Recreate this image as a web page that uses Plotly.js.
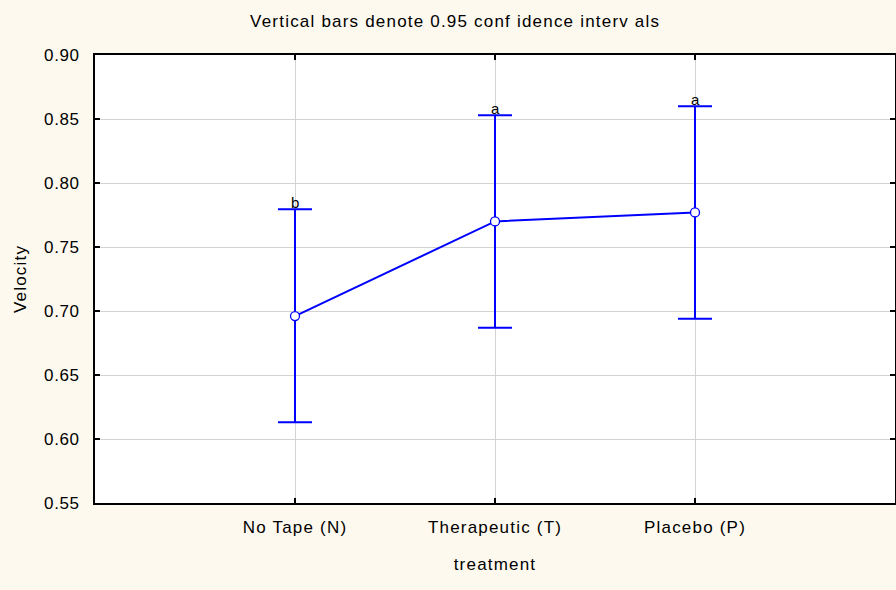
<!DOCTYPE html>
<html>
<head>
<meta charset="utf-8">
<script src="https://cdn.plot.ly/plotly-3.0.1.min.js"></script>
<style>html,body{margin:0;padding:0;background:#FDF9EE;}#chart{width:896px;height:590px;}
#chart text{letter-spacing:1.2px;}
#chart .ytick text{letter-spacing:0.6px;}
#chart .annotation text{letter-spacing:0px;}</style>
</head>
<body>
<div id="chart"></div>
<script>
const categories = ["No Tape (N)", "Therapeutic (T)", "Placebo (P)"];
const means = [0.696, 0.770, 0.777];
const upper = [0.7795, 0.853, 0.860];
const lower = [0.613, 0.687, 0.694];
const letters = ["b", "a", "a"];
const yTicks = [0.55, 0.60, 0.65, 0.70, 0.75, 0.80, 0.85, 0.90];

const xPos = categories.map((c, i) => i);
const errPlus = means.map((m, i) => upper[i] - m);
const errMinus = means.map((m, i) => m - lower[i]);

const trace = {
  x: xPos,
  y: means,
  type: "scatter",
  mode: "lines+markers",
  line: {color: "#0000FF", width: 2},
  marker: {size: 9, color: "#FFFFFF", line: {color: "#0000FF", width: 1.3}},
  error_y: {type: "data", symmetric: false, array: errPlus, arrayminus: errMinus,
            color: "#0000FF", thickness: 2, width: 17},
  hoverinfo: "none",
  showlegend: false
};

const annotations = letters.map((t, i) => ({
  x: xPos[i], y: upper[i], xref: "x", yref: "y", text: t, showarrow: false,
  yanchor: "bottom", yshift: -4, font: {family: "Liberation Sans, Arial, sans-serif", size: 15, color: "#000"}
}));

const layout = {
  width: 896, height: 590,
  paper_bgcolor: "#FDF9EE",
  plot_bgcolor: "#FFFFFF",
  margin: {l: 95, r: 1, t: 55, b: 87},
  font: {family: "Liberation Sans, Arial, sans-serif", size: 17, color: "#000"},
  title: {text: "Vertical bars denote 0.95 conf idence interv als", x: 0.508, xanchor: "center", y: 0.965, yanchor: "middle",
          font: {size: 17, color: "#000"}},
  xaxis: {
    range: [-1, 3], tickvals: xPos, ticktext: categories,
    tickfont: {size: 17},
    showgrid: true, gridcolor: "#D3D3D3", gridwidth: 1,
    showline: true, linecolor: "#000", linewidth: 2, mirror: "ticks",
    ticks: "inside", ticklen: 5, tickwidth: 1.5, tickcolor: "#000",
    ticklabelstandoff: 8, zeroline: false,
    title: {text: "treatment", standoff: 22, font: {size: 17}}
  },
  yaxis: {
    range: [0.55, 0.90], tickvals: yTicks, ticktext: yTicks.map(v => v.toFixed(2)),
    tickfont: {size: 17},
    showgrid: true, gridcolor: "#D3D3D3", gridwidth: 1,
    showline: true, linecolor: "#000", linewidth: 2, mirror: "ticks",
    ticks: "inside", ticklen: 5, tickwidth: 1.5, tickcolor: "#000",
    ticklabelstandoff: 10, zeroline: false,
    title: {text: "Velocity", standoff: 16, font: {size: 17}}
  },
  annotations: annotations
};

Plotly.newPlot("chart", [trace], layout, {staticPlot: true});
</script>
</body>
</html>
